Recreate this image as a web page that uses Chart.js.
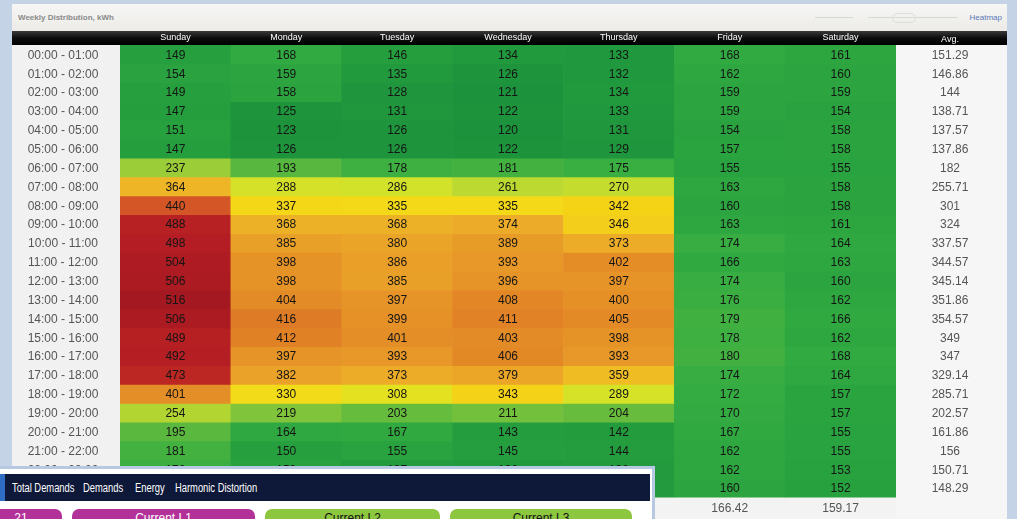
<!DOCTYPE html>
<html lang="en">
<head>
<meta charset="UTF-8">
<title>Weekly Distribution, kWh</title>
<script src="https://cdn.jsdelivr.net/npm/chart.js"></script>
<style>
    html, body { margin: 0; padding: 0; }
    body {
        width: 1017px; height: 519px; overflow: hidden; position: relative;
        background: #c5d3e7;
        font-family: 'Liberation Sans', Arial, sans-serif;
    }
    .panel {
        position: absolute; left: 12px; top: 4px; width: 995px; height: 515px;
        background: #f3f3f3;
    }
    .panel-head {
        height: 27px;
        background: linear-gradient(#f6f6f4, #ecebe8);
    }
    .panel-title {
        position: absolute; left: 6px; top: 9px;
        font-size: 8px; font-weight: bold; color: #8a8a8a;
    }
    .heat-link {
        position: absolute; right: 5px; top: 9px;
        font-size: 8px; color: #5a78b8;
    }
    .slider { position: absolute; top: 13px; height: 1px; background: #d8d8d4; }
    .knob {
        position: absolute; left: 880px; top: 9px; width: 22px; height: 8px;
        border: 1px solid #deded8; border-radius: 5px;
    }
    .chart-box { position: absolute; left: 12px; top: 31px; width: 995px; height: 488px; }

    /* overlapping menu panel at the bottom */
    .overlay {
        position: absolute; left: 0; top: 466px; width: 652px; height: 53px;
        background: #fff; border: 3px solid #b7c9e2; border-left: none; border-bottom: none;
        z-index: 5;
    }
    .menu {
        position: absolute; left: 0; top: 5px; width: 650px; height: 27px;
        background: #0e1838;
        color: #fff; font-size: 12px;
    }
    .menu .tab { position: absolute; left: 0; top: 0; width: 5px; height: 27px; background: #2f6cc4; }
    .menu span {
        position: absolute; top: 7px; white-space: nowrap;
        transform: scaleX(0.78); transform-origin: 0 0;
    }
    .btn {
        position: absolute; top: 40px; height: 20px;
        border-radius: 7px 7px 0 0; text-align: center;
        font-size: 12px; line-height: 12px; padding-top: 3px; box-sizing: border-box;
    }
    .btn.pink { background: #b3329a; color: #fff; }
    .btn.green { background: #8dc63f; color: #111; }
</style>
</head>
<body>
<div class="panel">
    <div class="panel-head"></div>
    <div class="panel-title">Weekly Distribution, kWh</div>
    <div class="slider" style="left:803px;width:38px"></div>
    <div class="slider" style="left:856px;width:90px"></div>
    <div class="knob"></div>
    <div class="heat-link">Heatmap</div>
</div>

<div class="chart-box"><canvas id="heatChart"></canvas></div>

<div class="overlay">
    <div class="menu">
        <div class="tab"></div>
        <span style="left:12px">Total Demands</span>
        <span style="left:83px">Demands</span>
        <span style="left:135px">Energy</span>
        <span style="left:175px">Harmonic Distortion</span>
    </div>
    <div class="btn pink" style="left:-20px;width:82px">21</div>
    <div class="btn pink" style="left:72px;width:183px">Current L1</div>
    <div class="btn green" style="left:265px;width:175px">Current L2</div>
    <div class="btn green" style="left:450px;width:182px">Current L3</div>
</div>

<script>
    // ---- data ----
    const days = ['Sunday', 'Monday', 'Tuesday', 'Wednesday', 'Thursday', 'Friday', 'Saturday'];
    const hours = ['00:00 - 01:00', '01:00 - 02:00', '02:00 - 03:00', '03:00 - 04:00', '04:00 - 05:00', '05:00 - 06:00',
                   '06:00 - 07:00', '07:00 - 08:00', '08:00 - 09:00', '09:00 - 10:00', '10:00 - 11:00', '11:00 - 12:00',
                   '12:00 - 13:00', '13:00 - 14:00', '14:00 - 15:00', '15:00 - 16:00', '16:00 - 17:00', '17:00 - 18:00',
                   '18:00 - 19:00', '19:00 - 20:00', '20:00 - 21:00', '21:00 - 22:00', '22:00 - 23:00', '23:00 - 24:00'];

    const sunday    = [149, 154, 149, 147, 151, 147, 237, 364, 440, 488, 498, 504, 506, 516, 506, 489, 492, 473, 401, 254, 195, 181, 176, 170];
    const monday    = [168, 159, 158, 125, 123, 126, 193, 288, 337, 368, 385, 398, 398, 404, 416, 412, 397, 382, 330, 219, 164, 150, 153, 148];
    const tuesday   = [146, 135, 128, 131, 126, 126, 178, 286, 335, 368, 380, 386, 385, 397, 399, 401, 393, 373, 308, 203, 167, 155, 137, 136];
    const wednesday = [134, 126, 121, 122, 120, 122, 181, 261, 335, 374, 389, 393, 396, 408, 411, 403, 406, 379, 343, 211, 143, 145, 136, 135];
    const thursday  = [133, 132, 134, 133, 131, 129, 175, 270, 342, 346, 373, 402, 397, 400, 405, 398, 393, 359, 289, 204, 142, 144, 138, 137];
    const friday    = [168, 162, 159, 159, 154, 157, 155, 163, 160, 163, 174, 166, 174, 176, 179, 178, 180, 174, 172, 170, 167, 162, 162, 160];
    const saturday  = [161, 160, 159, 154, 158, 158, 155, 158, 158, 161, 164, 163, 160, 162, 166, 162, 168, 164, 157, 157, 155, 155, 153, 152];

    const rowAvg = ['151.29', '146.86', '144', '138.71', '137.57', '137.86', '182', '255.71', '301', '324', '337.57', '344.57',
                    '345.14', '351.86', '354.57', '349', '347', '329.14', '285.71', '202.57', '161.86', '156', '150.71', '148.29'];
    const colAvg = ['324.46', '266.71', '257.46', '258.08', '254.42', '166.42', '159.17'];

    const columns = [sunday, monday, tuesday, wednesday, thursday, friday, saturday];

    // green -> yellow -> orange -> red
    const stops = [
        [120, [28, 146, 60]], [150, [38, 160, 62]], [172, [52, 172, 66]], [195, [90, 184, 62]],
        [240, [160, 206, 56]], [265, [192, 219, 46]], [290, [214, 226, 40]], [320, [238, 224, 28]],
        [340, [245, 214, 22]], [365, [238, 180, 40]], [390, [232, 155, 40]], [410, [225, 132, 38]],
        [440, [212, 86, 38]], [470, [190, 40, 35]], [500, [178, 28, 35]], [520, [160, 24, 32]]
    ];
    function heat(v) {
        for (let i = 1; i < stops.length; i++) {
            if (v <= stops[i][0]) {
                const [a, ca] = stops[i - 1], [b, cb] = stops[i];
                const t = Math.max(0, (v - a) / (b - a));
                const c = ca.map((x, k) => Math.round(x + (cb[k] - x) * t));
                return 'rgb(' + c.join(',') + ')';
            }
        }
        return 'rgb(160,24,32)';
    }

    // one dataset per hour row, each bar floats over [row, row+1]
    const datasets = hours.map((h, i) => ({
        label: h,
        data: columns.map(() => [i, i + 1]),
        vals: columns.map(c => c[i]),
        backgroundColor: columns.map(c => heat(c[i])),
        borderWidth: 0,
        barPercentage: 1,
        categoryPercentage: 1,
        grouped: false
    }));

    const backdrop = {
        id: 'backdrop',
        beforeDraw(chart) {
            const { ctx, chartArea: a, width } = chart;
            ctx.save();
            ctx.fillStyle = '#f1f1f1';
            ctx.fillRect(0, a.top, a.left, chart.height - a.top);
            ctx.fillStyle = '#f6f6f6';
            ctx.fillRect(a.right, a.top, width - a.right, chart.height - a.top);
            const g = ctx.createLinearGradient(0, 0, 0, a.top);
            g.addColorStop(0, '#3a3a3a');
            g.addColorStop(0.5, '#0c0c0c');
            g.addColorStop(1, '#000');
            ctx.fillStyle = g;
            ctx.fillRect(0, 0, width, a.top);
            ctx.restore();
        }
    };

    // cell values, hour labels (left) and row averages (right), placed with the y scale
    const cellText = {
        id: 'cellText',
        afterDatasetsDraw(chart) {
            const { ctx, chartArea: a } = chart;
            const yScale = chart.scales.y;
            ctx.save();
            ctx.font = '12px "Liberation Sans", Arial, sans-serif';
            ctx.textAlign = 'center';
            ctx.textBaseline = 'middle';
            ctx.fillStyle = '#151515';
            chart.data.datasets.forEach((ds, i) => {
                chart.getDatasetMeta(i).data.forEach((bar, j) => {
                    ctx.fillText(ds.vals[j], bar.x, (bar.y + bar.base) / 2 + 1);
                });
            });
            ctx.fillStyle = '#555';
            hours.forEach((h, i) => {
                const y = yScale.getPixelForValue(i + 0.5) + 1;
                ctx.fillText(h, a.left - 57, y);
                ctx.fillText(rowAvg[i], a.right + 54, y);
            });
            ctx.font = '9px "Liberation Sans", Arial, sans-serif';
            ctx.fillStyle = '#fff';
            ctx.fillText('Avg.', a.right + 54, a.top / 2 + 2);
            ctx.restore();
        }
    };

    new Chart(document.getElementById('heatChart'), {
        type: 'bar',
        data: { labels: days, datasets: datasets },
        options: {
            responsive: true,
            maintainAspectRatio: false,
            animation: false,
            layout: { padding: 0 },
            plugins: { legend: { display: false }, tooltip: { enabled: false } },
            scales: {
                x: {
                    position: 'top',
                    grid: { display: false, drawTicks: false },
                    border: { display: false },
                    ticks: { color: '#fff', font: { size: 9 }, padding: 2, maxRotation: 0 },
                    afterFit: s => { s.height = 14; }
                },
                xAvg: {
                    type: 'category',
                    position: 'bottom',
                    labels: colAvg,
                    grid: { display: false, drawTicks: false },
                    border: { display: false },
                    ticks: { color: '#555', font: { size: 12 }, padding: 4, maxRotation: 0 },
                    afterFit: s => { s.height = 21.4; }
                },
                y: {
                    type: 'linear',
                    min: 0, max: 24, reverse: true,
                    position: 'left',
                    grid: { display: false },
                    border: { display: false },
                    ticks: { display: false },
                    afterFit: s => { s.width = 108; }
                },
                yAvg: {
                    type: 'linear',
                    min: 0, max: 24, reverse: true,
                    position: 'right',
                    grid: { display: false },
                    border: { display: false },
                    ticks: { display: false },
                    afterFit: s => { s.width = 111; }
                }
            }
        },
        plugins: [backdrop, cellText]
    });
</script>
</body>
</html>
